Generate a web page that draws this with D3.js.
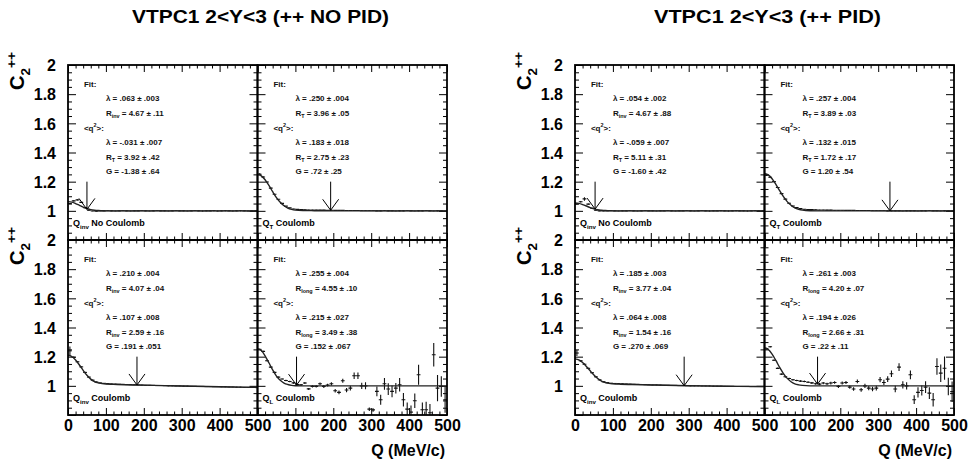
<!DOCTYPE html>
<html><head><meta charset="utf-8">
<script src="https://cdn.jsdelivr.net/npm/d3@7"></script>
<style>
body{margin:0;background:#fff;}
svg{display:block;font-family:"Liberation Sans",Arial,Helvetica,sans-serif;font-weight:bold;}
</style></head><body>
<svg id="c" width="969" height="466"></svg>
<script>
// ---- data ----
const figureTitles = ["VTPC1 2<Y<3 (++ NO PID)", "VTPC1 2<Y<3 (++ PID)"];
const panelNames = [["inv", " No Coulomb"], ["T", " Coulomb"], ["inv", " Coulomb"], ["L", " Coulomb"]];
const xTickValues = [0, 100, 200, 300, 400, 500];
const xTickLabels = ["0", "100", "200", "300", "400", "500"];
const xMinorValues = [20,40,60,80,120,140,160,180,220,240,260,280,320,340,360,380,420,440,460,480];
const yTickValues = [1, 1.2, 1.4, 1.6, 1.8, 2];
const yTickLabels = ["1", "1.2", "1.4", "1.6", "1.8", "2"];
const yMajorValues = [0.8, 1, 1.2, 1.4, 1.6, 1.8, 2];
const yMinorValues = [0.85,0.9,0.95,1.05,1.1,1.15,1.25,1.3,1.35,1.45,1.5,1.55,1.65,1.7,1.75,1.85,1.9,1.95];

const qBins = [5,15,25,35,45,55,65,75,85,95,105,115,125,135,145,155,165,175,185,195,
  205,215,225,235,245,255,265,275,285,295,305,315,325,335,345,355,365,375,385,395,
  405,415,425,435,445,455,465,475,485,495];

// C2 values per Q bin
const c2NoPidQinvNoCoul = [1.050,1.068,1.075,1.058,1.022,1.004,0.999,0.998,0.999,1.000,
  1.001,1.000,0.999,1.000,1.001,1.000,0.999,1.000,1.000,1.001,1.000,0.999,1.000,1.001,1.000,
  1.000,0.999,1.000,1.001,1.000,1.000,0.999,1.000,1.001,1.000,0.999,1.000,1.000,1.001,0.999,
  1.000,1.001,1.000,0.999,1.000,1.001,1.000,0.999,1.000,1.000];
const c2NoPidQtCoul = [1.252,1.232,1.198,1.156,1.114,1.079,1.051,1.032,1.020,1.013,
  1.010,1.008,1.007,1.006,1.006,1.005,1.005,1.005,1.004,1.004,1.003,1.003,1.003,1.002,1.002,
  1.002,1.002,1.001,1.001,1.001,1.001,1.000,1.000,1.001,1.000,1.000,0.999,1.000,1.000,1.001,
  1.000,0.999,1.000,1.000,1.001,1.000,0.999,1.000,1.000,0.999];
const c2NoPidQinvCoul = [1.240,1.195,1.165,1.130,1.092,1.060,1.039,1.026,1.020,1.017,
  1.015,1.013,1.012,1.011,1.010,1.009,1.008,1.007,1.006,1.005,1.004,1.004,1.003,1.002,1.002,
  1.001,1.000,1.000,0.999,0.999,0.998,0.998,0.997,0.997,0.996,0.996,0.995,0.995,0.994,0.994,
  0.993,0.993,0.992,0.992,0.991,0.991,0.990,0.990,0.989,0.989];
const c2NoPidQlCoul = [1.250,1.236,1.172,1.128,1.092,1.060,1.047,1.037,1.030,1.020,
  1.009,1.007,1.019,0.979,0.996,0.996,1.014,0.996,1.005,1.014,0.966,0.955,1.035,0.971,0.984,
  1.069,1.069,1.000,1.000,0.840,0.835,0.962,0.905,1.014,0.978,0.962,0.984,1.007,0.905,0.840,
  0.820,0.898,1.076,0.836,0.836,0.815,1.213,0.984,0.996,0.905];
const c2PidQinvNoCoul = [1.048,1.062,1.082,1.046,1.018,1.004,1.000,0.999,1.000,1.001,
  1.000,0.999,1.000,1.000,1.001,1.000,0.999,1.000,1.001,1.000,1.000,0.999,1.000,1.000,1.001,
  1.000,0.999,1.000,1.000,1.001,1.000,0.999,1.000,1.001,1.000,0.999,1.000,1.000,1.001,1.000,
  0.999,1.000,1.001,1.000,1.000,0.999,1.000,1.001,1.000,1.000];
const c2PidQtCoul = [1.245,1.230,1.200,1.160,1.118,1.080,1.052,1.033,1.022,1.015,
  1.011,1.009,1.008,1.007,1.006,1.006,1.005,1.005,1.004,1.004,1.004,1.003,1.003,1.003,1.002,
  1.002,1.002,1.002,1.001,1.001,1.001,1.001,1.000,1.000,1.000,1.000,0.999,1.000,1.000,1.000,
  0.999,1.000,1.000,1.001,1.000,1.000,0.999,1.000,1.000,1.000];
const c2PidQinvCoul = [1.225,1.172,1.148,1.120,1.090,1.062,1.041,1.028,1.022,1.018,
  1.016,1.015,1.014,1.013,1.012,1.011,1.010,1.009,1.008,1.007,1.006,1.006,1.005,1.004,1.004,
  1.003,1.003,1.002,1.002,1.001,1.000,1.000,1.000,0.999,0.999,0.999,0.998,0.998,0.998,0.997,
  0.997,0.997,0.996,0.996,0.996,0.996,0.995,0.995,0.995,0.995];
const c2PidQlCoul = [1.255,1.268,1.175,1.120,1.080,1.062,1.050,1.042,1.037,1.032,
  1.030,1.025,1.020,1.014,1.012,1.019,1.014,1.019,1.023,0.996,1.019,1.023,0.991,0.978,1.030,
  0.973,1.000,0.984,0.978,0.984,1.042,1.023,1.046,1.083,0.978,1.128,1.007,1.000,1.076,0.905,
  0.955,0.968,0.991,0.950,0.905,1.133,1.087,1.121,0.996,0.960];

// statistical errors per Q bin
const errNoPidQinvNoCoul = [0.004,0.004,0.004,0.003,0.003,0.003,0.002,0.002,0.002,0.002,
  0.002,0.002,0.002,0.002,0.002,0.002,0.002,0.002,0.002,0.002,0.002,0.002,0.002,0.002,0.002,
  0.002,0.002,0.002,0.002,0.002,0.002,0.002,0.002,0.002,0.003,0.003,0.003,0.003,0.003,0.003,
  0.003,0.003,0.003,0.003,0.003,0.003,0.003,0.003,0.003,0.003];
const errNoPidQtCoul = [0.006,0.005,0.004,0.004,0.003,0.003,0.003,0.002,0.002,0.002,
  0.002,0.002,0.002,0.002,0.002,0.002,0.002,0.002,0.002,0.002,0.002,0.002,0.002,0.002,0.002,
  0.002,0.002,0.002,0.002,0.002,0.002,0.002,0.002,0.002,0.002,0.002,0.002,0.002,0.002,0.002,
  0.002,0.002,0.002,0.002,0.002,0.002,0.002,0.002,0.002,0.002];
const errNoPidQinvCoul = [0.030,0.006,0.005,0.004,0.004,0.003,0.003,0.003,0.002,0.002,
  0.002,0.002,0.002,0.002,0.002,0.002,0.002,0.002,0.002,0.002,0.002,0.002,0.002,0.002,0.002,
  0.002,0.002,0.002,0.002,0.002,0.002,0.002,0.002,0.002,0.002,0.002,0.002,0.002,0.002,0.002,
  0.002,0.002,0.002,0.002,0.002,0.002,0.002,0.002,0.002,0.002];
const errNoPidQlCoul = [0.004,0.004,0.004,0.004,0.004,0.004,0.004,0.005,0.005,0.005,
  0.006,0.006,0.007,0.007,0.008,0.008,0.009,0.010,0.010,0.011,0.012,0.013,0.014,0.015,0.016,
  0.022,0.022,0.022,0.024,0.012,0.012,0.034,0.034,0.040,0.040,0.040,0.036,0.046,0.046,0.045,
  0.045,0.050,0.068,0.050,0.055,0.060,0.080,0.090,0.070,0.090];
const errPidQinvNoCoul = [0.004,0.005,0.012,0.004,0.003,0.003,0.002,0.002,0.002,0.002,
  0.002,0.002,0.002,0.002,0.002,0.002,0.002,0.002,0.002,0.002,0.002,0.002,0.002,0.002,0.002,
  0.002,0.002,0.002,0.002,0.002,0.002,0.002,0.002,0.002,0.003,0.003,0.003,0.003,0.003,0.003,
  0.003,0.003,0.003,0.003,0.003,0.003,0.003,0.003,0.003,0.003];
const errPidQtCoul = [0.006,0.005,0.004,0.004,0.003,0.003,0.003,0.002,0.002,0.002,
  0.002,0.002,0.002,0.002,0.002,0.002,0.002,0.002,0.002,0.002,0.002,0.002,0.002,0.002,0.002,
  0.002,0.002,0.002,0.002,0.002,0.002,0.002,0.002,0.002,0.002,0.002,0.002,0.002,0.002,0.002,
  0.002,0.002,0.002,0.002,0.002,0.002,0.002,0.002,0.002,0.002];
const errPidQinvCoul = [0.020,0.006,0.005,0.004,0.004,0.003,0.003,0.003,0.002,0.002,
  0.002,0.002,0.002,0.002,0.002,0.002,0.002,0.002,0.002,0.002,0.002,0.002,0.002,0.002,0.002,
  0.002,0.002,0.002,0.002,0.002,0.002,0.002,0.002,0.002,0.002,0.002,0.002,0.002,0.002,0.002,
  0.002,0.002,0.002,0.002,0.002,0.002,0.002,0.002,0.002,0.002];
const errPidQlCoul = [0.005,0.005,0.005,0.005,0.005,0.005,0.005,0.005,0.005,0.006,
  0.006,0.006,0.007,0.007,0.008,0.008,0.008,0.009,0.009,0.010,0.010,0.011,0.011,0.012,0.013,
  0.013,0.014,0.015,0.015,0.016,0.018,0.018,0.020,0.022,0.022,0.027,0.025,0.025,0.030,0.030,
  0.035,0.035,0.040,0.040,0.046,0.057,0.060,0.080,0.060,0.070];

// fitted correlation function sampled in Q
const fitQ = [0,10,20,30,40,50,60,70,80,90,100,120,150,200,300,400,500];
const fitNoPidQinvNoCoul = [1.063,1.060,1.050,1.038,1.026,1.016,1.008,1.004,1.002,1.001,1.000,1.000,1.000,1.000,1.000,1.000,1.000];
const fitNoPidQtCoul = [1.250,1.240,1.213,1.174,1.131,1.091,1.059,1.035,1.019,1.010,1.005,1.002,1.001,1.000,1.000,1.000,1.000];
const fitNoPidQinvCoul = [1.210,1.201,1.177,1.143,1.106,1.072,1.046,1.029,1.020,1.015,1.012,1.010,1.007,1.005,0.999,0.994,0.989];
const fitNoPidQlCoul = [1.255,1.242,1.206,1.158,1.109,1.067,1.038,1.019,1.009,1.003,1.001,1.000,1.000,1.000,1.000,1.000,1.000];
const fitPidQinvNoCoul = [1.054,1.051,1.043,1.033,1.022,1.013,1.007,1.004,1.002,1.001,1.000,1.000,1.000,1.000,1.000,1.000,1.000];
const fitPidQtCoul = [1.257,1.247,1.220,1.181,1.138,1.097,1.063,1.038,1.021,1.011,1.005,1.001,1.000,1.000,1.000,1.000,1.000];
const fitPidQinvCoul = [1.185,1.178,1.160,1.133,1.103,1.074,1.050,1.033,1.023,1.017,1.014,1.011,1.009,1.006,1.001,0.997,0.995];
const fitPidQlCoul = [1.261,1.249,1.218,1.174,1.126,1.084,1.051,1.028,1.014,1.007,1.003,1.000,1.000,1.000,1.000,1.000,1.000];

// arrow markers (Q position and C2 at the tip)
const arrowQ = [50, 193, 182, 103, 53, 331, 288, 140];
const arrowTip = [1.010, 1.004, 1.006, 1.005, 1.012, 1.000, 1.001, 1.012];

// fit results printed in each panel
const fitLambda = [".063 \u00b1 .003", ".250 \u00b1 .004", ".210 \u00b1 .004", ".255 \u00b1 .004",
                   ".054 \u00b1 .002", ".257 \u00b1 .004", ".185 \u00b1 .003", ".261 \u00b1 .003"];
const fitRSub = ["inv", "T", "inv", "long", "inv", "T", "inv", "long"];
const fitR = ["4.67 \u00b1 .11", "3.96 \u00b1 .05", "4.07 \u00b1 .04", "4.55 \u00b1 .10",
              "4.67 \u00b1 .88", "3.89 \u00b1 .03", "3.77 \u00b1 .04", "4.20 \u00b1 .07"];
const q2Lambda = ["-.031 \u00b1 .007", ".183 \u00b1 .018", ".107 \u00b1 .008", ".215 \u00b1 .027",
                  "-.059 \u00b1 .007", ".132 \u00b1 .015", ".064 \u00b1 .008", ".194 \u00b1 .026"];
const q2RSub = ["T", "T", "inv", "long", "T", "T", "inv", "long"];
const q2R = ["3.92 \u00b1 .42", "2.75 \u00b1 .23", "2.59 \u00b1 .16", "3.49 \u00b1 .38",
             "5.11 \u00b1 .31", "1.72 \u00b1 .17", "1.54 \u00b1 .16", "2.66 \u00b1 .31"];
const q2G = ["-1.38 \u00b1 .64", ".72 \u00b1 .25", ".191 \u00b1 .051", ".152 \u00b1 .067",
             "-1.60 \u00b1 .42", "1.20 \u00b1 .54", ".270 \u00b1 .069", ".22 \u00b1 .11"];

const panelValues = [c2NoPidQinvNoCoul, c2NoPidQtCoul, c2NoPidQinvCoul, c2NoPidQlCoul,
                     c2PidQinvNoCoul, c2PidQtCoul, c2PidQinvCoul, c2PidQlCoul];
const panelErrors = [errNoPidQinvNoCoul, errNoPidQtCoul, errNoPidQinvCoul, errNoPidQlCoul,
                     errPidQinvNoCoul, errPidQtCoul, errPidQinvCoul, errPidQlCoul];
const panelFits = [fitNoPidQinvNoCoul, fitNoPidQtCoul, fitNoPidQinvCoul, fitNoPidQlCoul,
                   fitPidQinvNoCoul, fitPidQtCoul, fitPidQinvCoul, fitPidQlCoul];

// ---- layout ----
const figX = [68, 575];
const panelW = 189.5;
const rowY = [65, 240];
const panelH = 175;
const binHalf = 5;
const titleWidth = [257, 227];

const svg = d3.select("#c");

// writes a label built from [text, "sub"|"sup"|undefined] parts
function richText(sel, parts, size) {
  let shift = 0;
  parts.forEach(([t, mode]) => {
    const target = mode === "sub" ? size * 0.28 : mode === "sup" ? -size * 0.4 : 0;
    sel.append("tspan").text(t)
      .attr("dy", target - shift)
      .attr("font-size", mode ? size * 0.68 : size);
    shift = target;
  });
}

figureTitles.forEach((title, f) => {
  const cx = figX[f] + panelW + 3;
  svg.append("text")
    .attr("x", cx - titleWidth[f] / 2).attr("y", 23)
    .attr("font-size", 18)
    .attr("textLength", titleWidth[f]).attr("lengthAdjust", "spacingAndGlyphs")
    .text(title);

  svg.append("text")
    .attr("x", figX[f] + 2 * panelW - 2).attr("y", 456)
    .attr("text-anchor", "end").attr("font-size", 16)
    .text("Q (MeV/c)");

  [0, 1].forEach(r => {
    // y-axis title C2++
    const yt = svg.append("text")
      .attr("transform", `translate(${figX[f] - 44},${rowY[r] - 13}) rotate(-90)`)
      .attr("text-anchor", "end");
    richText(yt, [["C"], ["2", "sub"], ["++", "sup"]], 20);

    [0, 1].forEach(c => {
      const p = f * 4 + r * 2 + c;
      const x0 = figX[f] + c * panelW;
      const y0 = rowY[r];
      const x = d3.scaleLinear().domain([0, 500]).range([x0, x0 + panelW]);
      const y = d3.scaleLinear().domain([0.8, 2]).range([y0 + panelH, y0]);
      const g = svg.append("g");

      const clipId = "clip" + p;
      svg.append("clipPath").attr("id", clipId)
        .append("rect").attr("x", x0).attr("y", y0).attr("width", panelW).attr("height", panelH);

      // ticks on all four sides, pointing inward
      const tickAxis = (axisFn, scale, values, size, tx, ty) => {
        const a = g.append("g").attr("transform", `translate(${tx},${ty})`)
          .call(axisFn(scale).tickValues(values).tickSize(size).tickFormat(""));
        a.select(".domain").remove();
        a.selectAll("line").attr("stroke", "#000").attr("stroke-width", 1);
      };
      tickAxis(d3.axisBottom, x, xTickValues, -7, 0, y0 + panelH);
      tickAxis(d3.axisBottom, x, xMinorValues, -3.5, 0, y0 + panelH);
      tickAxis(d3.axisTop, x, xTickValues, -7, 0, y0);
      tickAxis(d3.axisTop, x, xMinorValues, -3.5, 0, y0);
      tickAxis(d3.axisLeft, y, yMajorValues, -8, x0, 0);
      tickAxis(d3.axisLeft, y, yMinorValues, -4, x0, 0);
      tickAxis(d3.axisRight, y, yMajorValues, -8, x0 + panelW, 0);
      tickAxis(d3.axisRight, y, yMinorValues, -4, x0 + panelW, 0);

      // tick labels
      if (c === 0) {
        const ya = g.append("g").attr("transform", `translate(${x0},0)`)
          .call(d3.axisLeft(y).tickValues(yTickValues).tickSize(0).tickPadding(12)
            .tickFormat((d, i) => yTickLabels[i]));
        ya.select(".domain").remove();
        ya.selectAll("text").attr("font-size", 16).attr("font-family", null)
          .attr("font-weight", "bold").attr("fill", "#000").attr("dy", "0.36em");
      }
      if (r === 1) {
        // the right column's "0" falls on the left column's "500"; draw it once
        const shown = c === 0 ? xTickValues : xTickValues.slice(1);
        const xa = g.append("g").attr("transform", `translate(0,${y0 + panelH})`)
          .call(d3.axisBottom(x).tickValues(shown).tickSize(0).tickPadding(5)
            .tickFormat(d => xTickLabels[xTickValues.indexOf(d)]));
        xa.select(".domain").remove();
        xa.selectAll("text").attr("font-size", 16).attr("font-family", null)
          .attr("font-weight", "bold").attr("fill", "#000");
      }

      const plot = g.append("g").attr("clip-path", `url(#${clipId})`);

      // data points: bin width bar plus error bar
      const vals = panelValues[p], errs = panelErrors[p];
      const pts = plot.append("g").attr("stroke", "#111").attr("stroke-width", 1.1);
      qBins.forEach((q, i) => {
        pts.append("line")
          .attr("x1", x(q - binHalf)).attr("x2", x(q + binHalf))
          .attr("y1", y(vals[i])).attr("y2", y(vals[i]));
        pts.append("line")
          .attr("x1", x(q)).attr("x2", x(q))
          .attr("y1", y(vals[i] - errs[i])).attr("y2", y(vals[i] + errs[i]));
      });

      // fit curve
      const fitLine = d3.line().x((d, i) => x(fitQ[i])).y(d => y(d)).curve(d3.curveMonotoneX);
      plot.append("path").datum(panelFits[p])
        .attr("d", fitLine).attr("fill", "none")
        .attr("stroke", "#222").attr("stroke-width", 1.4);

      // arrow
      const ax = x(arrowQ[p]), aTip = y(arrowTip[p]);
      const ar = g.append("g").attr("stroke", "#000").attr("stroke-width", 1).attr("fill", "none");
      ar.append("line").attr("x1", ax).attr("x2", ax).attr("y1", y(1.2)).attr("y2", aTip);
      ar.append("path").attr("d", `M${ax - 8},${aTip - 11}L${ax},${aTip}L${ax + 8},${aTip - 11}`);

      // fit results
      const lines = [
        [["Fit:"]],
        [["\u03bb = " + fitLambda[p]]],
        [["R"], [fitRSub[p], "sub"], [" = " + fitR[p]]],
        [["<q"], ["2", "sup"], [">:"]],
        [["\u03bb = " + q2Lambda[p]]],
        [["R"], [q2RSub[p], "sub"], [" = " + q2R[p]]],
        [["G = " + q2G[p]]]
      ];
      const lineY = [1.85, 1.75, 1.65, 1.55, 1.45, 1.35, 1.25];
      lines.forEach((parts, k) => {
        const qx = (k === 0 || k === 3) ? 42 : 100;
        const t = g.append("text").attr("x", x(qx)).attr("y", y(lineY[k])).attr("fill", "#111");
        richText(t, parts, 8);
      });

      // panel name
      const nm = panelNames[r * 2 + c];
      const lt = g.append("text").attr("x", x0 + 5).attr("y", y(0.895)).attr("fill", "#000");
      richText(lt, [["Q"], [nm[0], "sub"], [nm[1]]], 9);

      // frame
      g.append("rect").attr("x", x0).attr("y", y0).attr("width", panelW).attr("height", panelH)
        .attr("fill", "none").attr("stroke", "#000").attr("stroke-width", 1.8);
    });
  });
});
</script>
</body></html>
